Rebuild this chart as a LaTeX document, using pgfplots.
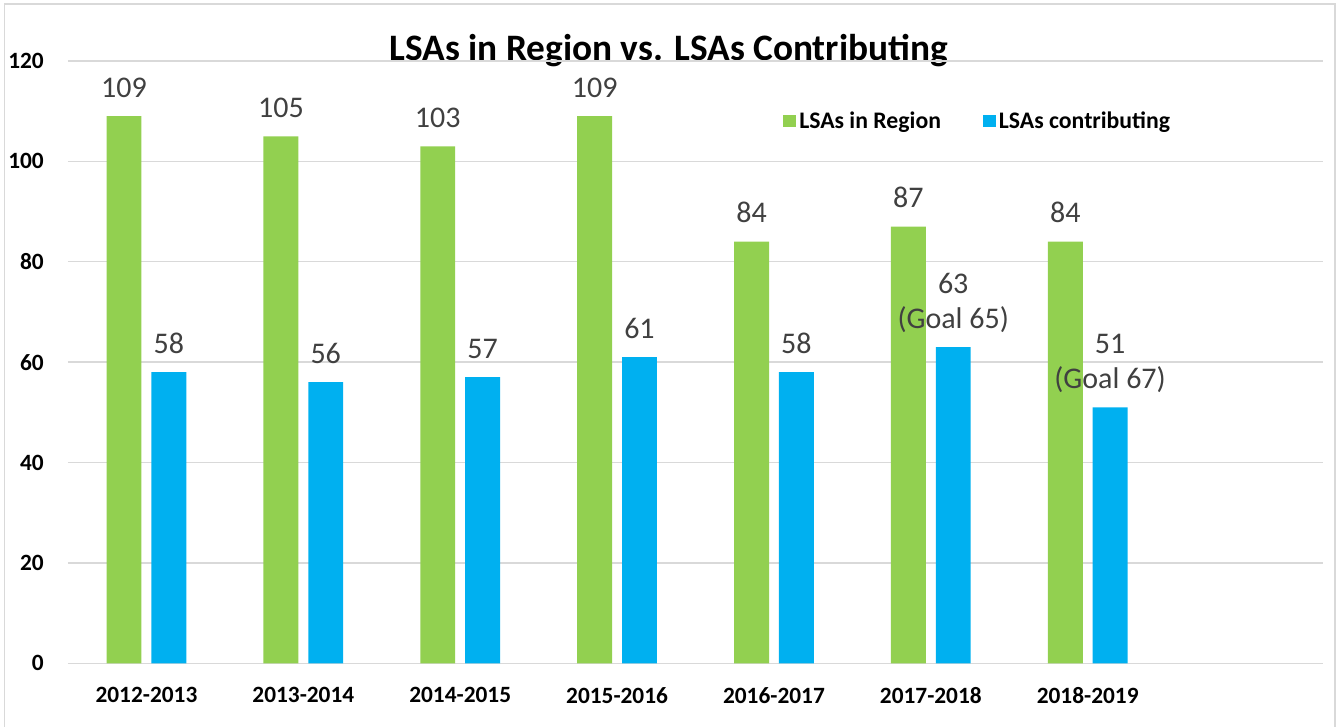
\documentclass[border=0pt]{standalone}
\usepackage{pgfplots}
\pgfplotsset{compat=1.18}
\usepackage{fontspec}
\setmainfont{Carlito}
\definecolor{cgreen}{HTML}{92D050}
\definecolor{cblue}{HTML}{00B0F0}
\definecolor{cgrid}{HTML}{D9D9D9}
\definecolor{clabel}{HTML}{404040}
\pgfplotsset{
  /pgf/number format/assume math mode=true,
  legend image code/.code={\fill[#1] (0pt,-4.5pt) rectangle (9.5pt,4.5pt);},
}
\begin{document}
\begin{tikzpicture}
\useasboundingbox (0,0) rectangle (1004.25pt,545.25pt);
\draw[cgrid, line width=1.2pt] (3.5pt,-5pt) rectangle (1001.25pt,542.25pt);
\node[anchor=base, font=\bfseries\fontsize{28}{34}\selectfont] at (501.5pt,500pt) {LSAs in Region vs. LSAs Contributing};
\begin{axis}[
  at={(51pt,47.8pt)}, anchor=south west,
  scale only axis, width=941.25pt, height=451.7pt,
  xmin=0, xmax=8, ymin=0, ymax=120,
  clip=false,
  axis line style={draw=none},
  ytick={0,20,...,120},
  ymajorgrids, grid style={cgrid, line width=1.1pt},
  xtick={0.5,1.5,2.5,3.5,4.5,5.5,6.5},
  xticklabels={2012-2013,2013-2014,2014-2015,2015-2016,2016-2017,2017-2018,2018-2019},
  major tick length=0pt,
  ticklabel style={font=\bfseries\fontsize{17.5}{20}\selectfont, inner sep=0pt},
  yticklabel style={anchor=east, xshift=-18pt},
  xticklabel style={anchor=north, yshift=-18pt},
  bar width=0.223,
  nodes near coords style={font=\fontsize{22.5}{26.25}\selectfont, text=clabel, anchor=south, inner sep=0pt, text depth=0pt, align=center, yshift=13.9pt},
  legend columns=2,
  legend style={at={(axis cs:4.558,108.05)}, anchor=west, draw=none, fill=none, inner sep=0pt,
    font=\bfseries\fontsize{17.8}{20}\selectfont,
    nodes={inner sep=2.5pt},
    /tikz/every even column/.append style={column sep=29pt}},
]
\addplot[ybar, bar shift=-0.143, fill=cgreen, draw=none, nodes near coords,
  every node near coord/.append style={xshift=-16.8pt}] coordinates {
  (0.5,109) (1.5,105) (2.5,103) (3.5,109) (4.5,84) (5.5,87) (6.5,84)
};
\addlegendentry{LSAs in Region}
\addplot[ybar, bar shift=0.143, fill=cblue, draw=none, point meta=explicit symbolic, nodes near coords,
  every node near coord/.append style={xshift=16.8pt}] coordinates {
  (0.5,58) [58] (1.5,56) [56] (2.5,57) [57] (3.5,61) [61] (4.5,58) [58] (5.5,63) [{63\\(Goal 65)}] (6.5,51) [{51\\(Goal 67)}]
};
\addlegendentry{LSAs contributing}
\end{axis}
\end{tikzpicture}
\end{document}
